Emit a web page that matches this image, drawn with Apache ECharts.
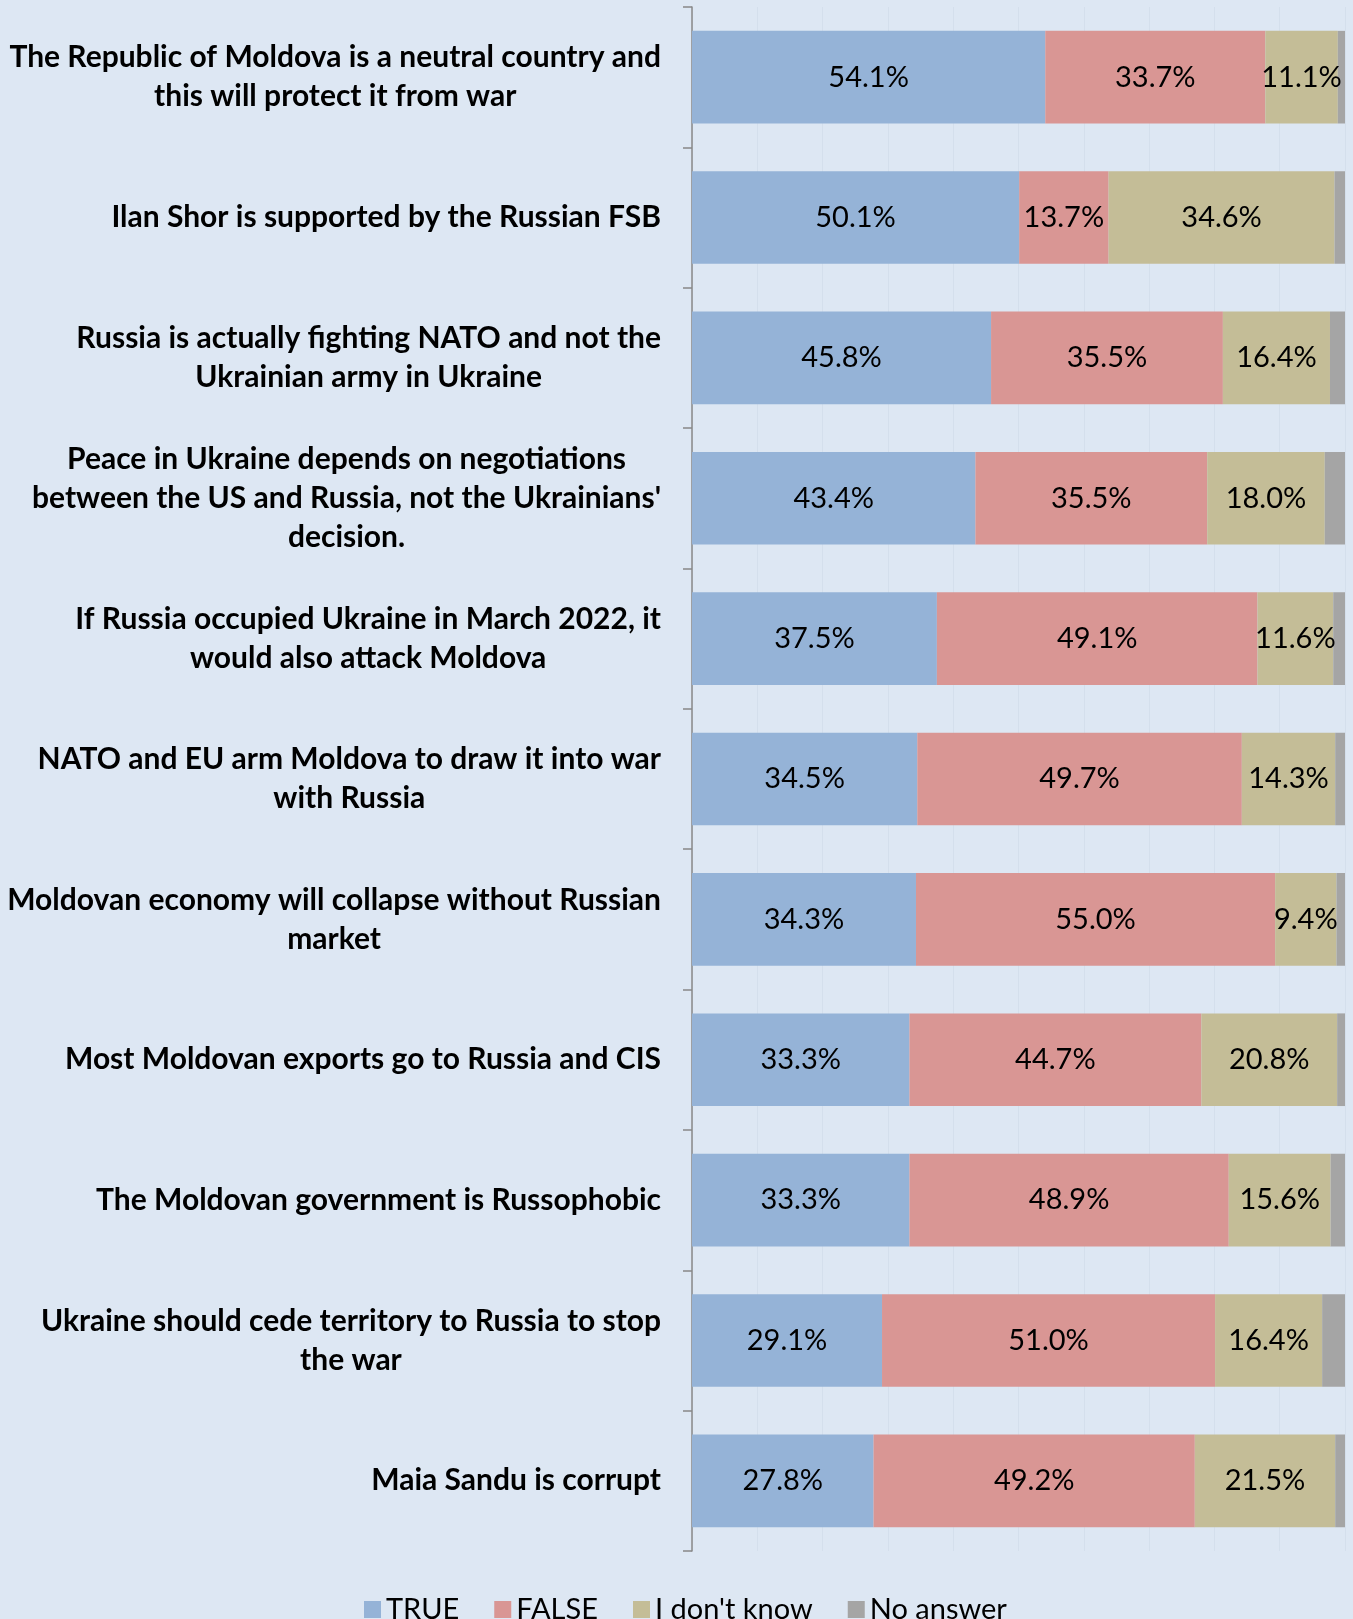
<!DOCTYPE html>
<html>
<head>
<meta charset="utf-8">
<script src="https://cdn.jsdelivr.net/npm/echarts@6/dist/echarts.min.js"></script>
<style>
  html, body { margin: 0; padding: 0; background: #DDE7F3; }
  #chart { width: 1353px; height: 1619px; }
</style>
</head>
<body>
<div id="chart"></div>
<script>
const categories = [
    'The Republic of Moldova is a neutral country and\nthis will protect it from war',
    'Ilan Shor is supported by the Russian FSB',
    'Russia is actually fighting NATO and not the\nUkrainian army in Ukraine',
    'Peace in Ukraine depends on negotiations\nbetween the US and Russia, not the Ukrainians\'\ndecision.',
    'If Russia occupied Ukraine in March 2022, it\nwould also attack Moldova',
    'NATO and EU arm Moldova to draw it into war\nwith Russia',
    'Moldovan economy will collapse without Russian\nmarket',
    'Most Moldovan exports go to Russia and CIS',
    'The Moldovan government is Russophobic',
    'Ukraine should cede territory to Russia to stop\nthe war',
    'Maia Sandu is corrupt'
]

const trueValues = [54.1, 50.1, 45.8, 43.4, 37.5, 34.5, 34.3, 33.3, 33.3, 29.1, 27.8]
const falseValues = [33.7, 13.7, 35.5, 35.5, 49.1, 49.7, 55.0, 44.7, 48.9, 51.0, 49.2]
const dontKnowValues = [11.1, 34.6, 16.4, 18.0, 11.6, 14.3, 9.4, 20.8, 15.6, 16.4, 21.5]
const noAnswerValues = [1.1, 1.6, 2.3, 3.1, 1.8, 1.5, 1.3, 1.2, 2.2, 3.5, 1.5]

const colors = ['#95B3D7', '#D99694', '#C4BD97', '#A5A5A5']
const font = 'Lato, "Open Sans", sans-serif'

let chart = echarts.init(document.getElementById('chart'))

let barLabel = {
    show: true,
    position: 'inside',
    color: '#000',
    fontFamily: font,
    fontSize: 29,
    formatter: (p) => p.value.toFixed(1) + '%'
}

let makeSeries = (name, data, withLabel) => ({
    name: name,
    type: 'bar',
    stack: 'total',
    data: data,
    barCategoryGap: '34%',
    label: withLabel ? barLabel : { show: false },
    emphasis: { disabled: true }
})

chart.setOption({
    backgroundColor: '#DDE7F3',
    color: colors,
    animation: false,
    grid: { left: 692, right: 8, top: 7, bottom: 68, containLabel: false },
    xAxis: {
        type: 'value',
        min: 0,
        max: 100,
        interval: 10,
        axisLabel: { show: false },
        axisLine: { show: false },
        axisTick: { show: false },
        splitLine: { lineStyle: { color: '#D4DFEC', width: 1 } }
    },
    yAxis: {
        type: 'category',
        inverse: true,
        data: categories,
        axisLine: { show: true, lineStyle: { color: '#888888', width: 1.5 } },
        axisTick: { show: true, length: 9, lineStyle: { color: '#888888', width: 1.5 } },
        axisLabel: {
            margin: 31,
            align: 'right',
            formatter: (v) => v.split('\n').map(l => '{c|' + l + '}').join('\n'),
            rich: {
                c: {
                    align: 'center',
                    fontFamily: font,
                    fontWeight: 'bold',
                    fontSize: 30,
                    lineHeight: 39,
                    color: '#000'
                }
            }
        }
    },
    legend: {
        left: 359,
        top: 1590,
        icon: 'rect',
        itemWidth: 17,
        itemHeight: 17,
        itemGap: 35,
        textStyle: { fontFamily: font, fontSize: 29, color: '#000' },
        data: ['TRUE', 'FALSE', 'I don\'t know', 'No answer']
    },
    series: [
        makeSeries('TRUE', trueValues, true),
        makeSeries('FALSE', falseValues, true),
        makeSeries('I don\'t know', dontKnowValues, true),
        makeSeries('No answer', noAnswerValues, false)
    ]
})
</script>
</body>
</html>
